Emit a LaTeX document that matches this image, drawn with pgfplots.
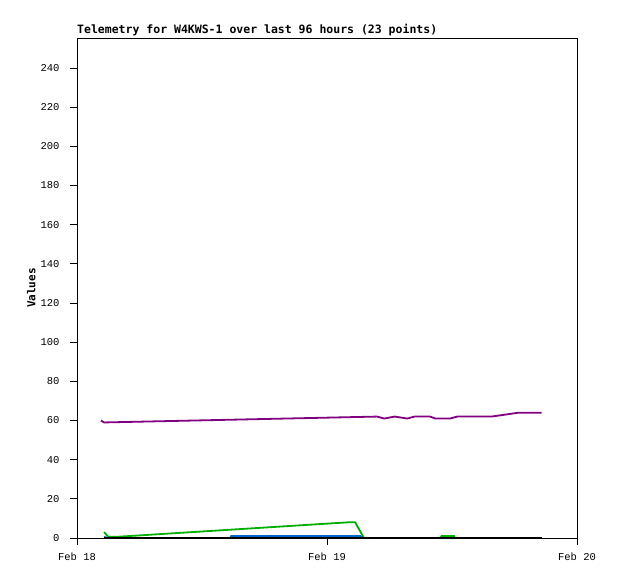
\documentclass[border=0pt]{standalone}
\usepackage{fontspec}
\setmainfont{Liberation Mono}
\setmonofont{Liberation Mono}
\newfontfamily\titlefont{DejaVu Sans Mono}
\usepackage{pgfplots}
\pgfplotsset{compat=1.18}
\definecolor{tpurple}{RGB}{128,0,128}
\definecolor{tgreen}{RGB}{0,175,0}
\definecolor{tblue}{RGB}{0,102,204}
\begin{document}
\begin{tikzpicture}
\useasboundingbox (-77pt,-41pt) rectangle (541pt,538pt);
\begin{axis}[
    at={(0,0)}, anchor=south west,
    scale only axis,
    width=500pt, height=500pt,
    xmin=0, xmax=48,
    ymin=0, ymax=255.3,
    xtick={0,24,48},
    xticklabels={Feb 18, Feb 19, Feb 20},
    ytick={0,20,...,240},
    tick align=outside,
    major tick length=7pt,
    xtick pos=bottom, ytick pos=left,
    axis line style={line width=0.9pt},
    every tick/.style={black, line width=0.9pt},
    /pgf/number format/assume math mode=true,
    ticklabel style={font=\fontsize{10.5}{12}\selectfont},
    xticklabel style={yshift=-4pt},
    yticklabel style={xshift=-7pt},
    ylabel={\titlefont\bfseries\fontsize{11}{13}\selectfont Values},
    ylabel style={at={(-38pt,0.5)}, anchor=south, rotate=0},
    clip=false,
]
\addplot[tpurple, line width=1.8pt] coordinates {
 (2.3,60) (2.6,59) (28.8,62) (29.5,61) (30.5,62) (31.7,61) (32.4,62)
 (33.9,62) (34.4,61) (35.8,61) (36.5,62) (39.8,62) (42.4,64) (44.6,64)};
\addplot[tgreen, line width=1.8pt] coordinates {
 (2.6,3) (3.0,0.6) (3.8,0.6) (26.0,8) (26.7,8) (27.55,0) (34.9,0)
 (35.0,1) (36.2,1) (36.3,0) (44.6,0)};
\addplot[tblue, line width=1.8pt] coordinates {
 (2.6,0.6) (2.9,0) (14.7,0) (14.8,1) (27.2,1) (27.4,0) (44.6,0)};
\addplot[black, line width=2pt] coordinates {(2.6,0) (44.6,0)};
\node[anchor=south west, inner sep=0pt, font=\titlefont\bfseries\fontsize{11.5}{13}\selectfont]
  at (rel axis cs:0,1) [yshift=1.5pt] {Telemetry for W4KWS-1 over last 96 hours (23 points)};
\end{axis}
\end{tikzpicture}
\end{document}
